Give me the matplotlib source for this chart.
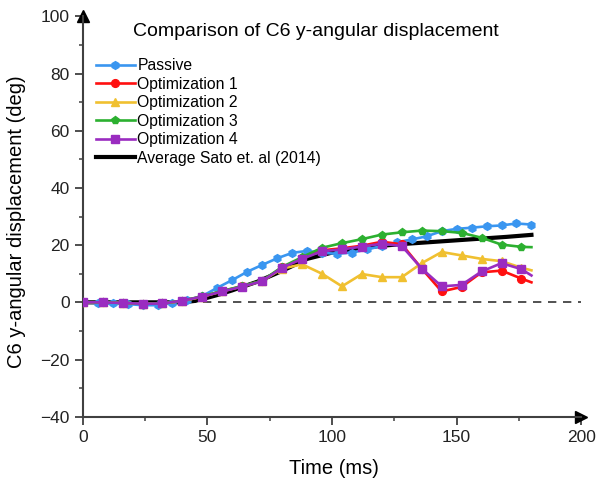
import matplotlib
matplotlib.use("Agg")
import matplotlib.pyplot as plt
from matplotlib.ticker import MultipleLocator

plt.rcParams["font.family"] = ["Liberation Sans", "DejaVu Sans"]

# time bases (ms)
t_passive = [0, 6, 12, 18, 24, 30, 36, 42, 48, 54, 60, 66, 72, 78, 84, 90,
             96, 102, 108, 114, 120, 126, 132, 138, 144, 150, 156, 162, 168,
             174, 180]
t_opt = [0, 8, 16, 24, 32, 40, 48, 56, 64, 72, 80, 88, 96, 104, 112, 120,
         128, 136, 144, 152, 160, 168, 176, 180]
t_sato = [0, 10, 20, 30, 40, 45, 50, 55, 60, 70, 80, 90, 100, 110, 120, 130,
          140, 150, 160, 170, 180]

# angular displacement (deg)
passive = [0, -0.3, -0.4, -0.6, -1.0, -1.0, -0.2, 0.8, 2.2, 5.1, 7.8, 10.7,
           13.1, 15.4, 17.3, 18.0, 17.3, 17.0, 17.4, 18.5, 19.7, 21.0, 22.0,
           23.1, 24.9, 25.7, 26.1, 26.6, 26.9, 27.6, 27.2]
opt1 = [0, 0, -0.2, -0.5, -0.4, 0.5, 2.0, 3.9, 5.6, 7.5, 12.2, 15.4, 18.2,
        18.9, 19.8, 21.2, 20.3, 11.8, 3.8, 5.4, 10.5, 11.1, 8.3, 7.0]
opt2 = [0, 0, -0.2, -0.5, -0.4, 0.5, 2.0, 3.9, 5.6, 7.5, 11.8, 13.3, 10.0,
        5.6, 9.9, 8.8, 8.8, 13.7, 17.6, 16.4, 15.2, 14.4, 12.1, 11.2]
opt3 = [0, 0, -0.2, -0.5, -0.4, 0.6, 2.1, 4.0, 5.7, 7.6, 12.4, 15.8, 19.1,
        20.7, 22.1, 23.7, 24.5, 25.1, 24.9, 24.3, 22.6, 20.2, 19.4, 19.3]
opt4 = [0, 0, -0.2, -0.5, -0.4, 0.6, 2.0, 3.8, 5.5, 7.4, 12.1, 15.2, 17.9,
        18.5, 19.5, 20.5, 19.7, 11.8, 5.6, 6.1, 10.8, 13.7, 11.6, 9.4]
sato = [0, 0, 0, 0, 0, 0.5, 1.6, 2.8, 4.2, 7.2, 11.0, 15.2, 17.4, 18.8,
        19.8, 20.5, 21.1, 21.7, 22.3, 22.9, 23.6]

series = [
    ("Passive", t_passive, passive, "#3a96f0", "h"),
    ("Optimization 1", t_opt, opt1, "#ff1010", "o"),
    ("Optimization 2", t_opt, opt2, "#f0c030", "^"),
    ("Optimization 3", t_opt, opt3, "#2cb030", "p"),
    ("Optimization 4", t_opt, opt4, "#9a2cc0", "s"),
]

fig = plt.figure(figsize=(6.02, 4.83), dpi=100)
ax = fig.add_axes([0.1374, 0.1373, 0.8282, 0.8286])

ax.axhline(0, color="#333333", lw=1.2, ls=(0, (5, 4)), zorder=1)

for label, t, y, c, m in series:
    mk = list(range(len(t)))
    if t is t_opt:
        # last sample at 180 ms carries no marker
        mk = mk[:-1]
    ax.plot(t, y, color=c, lw=1.9, marker=m, ms=5.6, markevery=mk,
            mec=c, mfc=c, label=label, zorder=3)

ax.plot(t_sato, sato, color="black", lw=3.0, label="Average Sato et. al (2014)",
        zorder=2)

ax.set_xlim(0, 200)
ax.set_ylim(-40, 100)
ax.xaxis.set_major_locator(MultipleLocator(50))
ax.xaxis.set_minor_locator(MultipleLocator(25))
ax.yaxis.set_major_locator(MultipleLocator(20))
ax.yaxis.set_minor_locator(MultipleLocator(10))

for s in ["top", "right"]:
    ax.spines[s].set_visible(False)
for s in ["left", "bottom"]:
    ax.spines[s].set_linewidth(1.5)
    ax.spines[s].set_color("#404040")
ax.tick_params(which="major", direction="out", length=6, width=1.3,
               color="#404040", labelsize=12.5, labelcolor="#222222")
ax.tick_params(which="minor", direction="out", length=3, width=1.1,
               color="#404040")

# arrow heads on the axes
ax.plot(1, 0, marker=">", color="black", ms=9, transform=ax.transAxes,
        clip_on=False)
ax.plot(0, 1, marker="^", color="black", ms=9, transform=ax.transAxes,
        clip_on=False)

ax.text(0.468, 0.963, "Comparison of C6 y-angular displacement",
        transform=ax.transAxes, ha="center", va="center", fontsize=14)

ax.legend(loc="upper left", bbox_to_anchor=(0.026, 0.895), frameon=False,
          fontsize=11.3, handlelength=2.5, handletextpad=0.15,
          labelspacing=0.22, borderaxespad=0, borderpad=0)

fig.text(0.555, 0.031, "Time (ms)", ha="center", va="center", fontsize=14.5)
fig.text(0.027, 0.54, "C6 y-angular displacement (deg)", rotation=90,
         ha="center", va="center", fontsize=14.5)

fig.savefig("out.png", dpi=100)
